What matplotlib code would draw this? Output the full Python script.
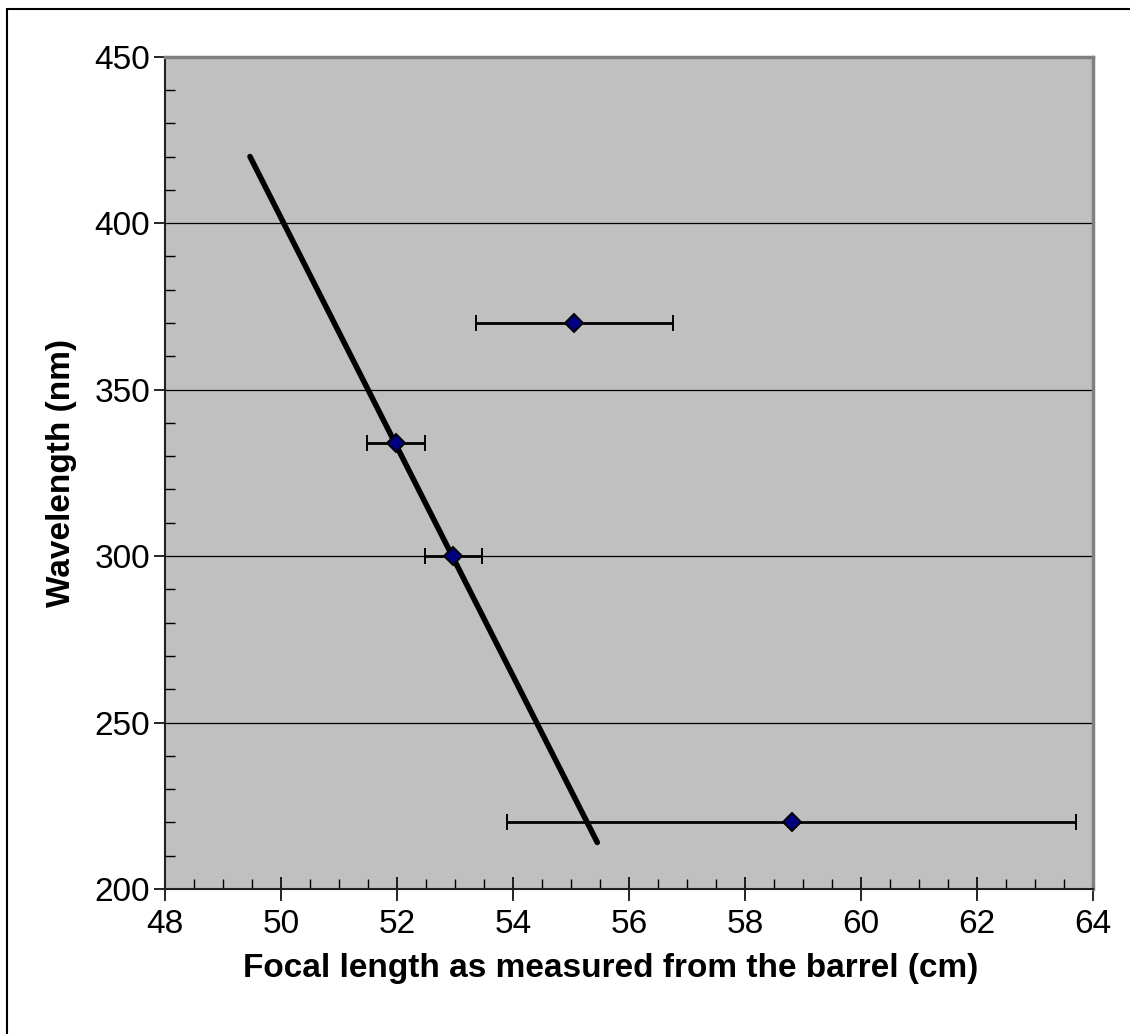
import matplotlib.pyplot as plt
from matplotlib.ticker import MultipleLocator
from matplotlib.patches import Rectangle

plt.rcParams['font.family'] = ['Liberation Sans', 'DejaVu Sans']

# measured points
focal = [55.05, 51.97, 52.97, 58.8]
wavelength = [370, 334, 300, 220]
focal_err = [1.7, 0.5, 0.5, 4.9]

# trend line end points
fit_x = [49.46, 55.45]
fit_y = [420, 214]

fig = plt.figure(figsize=(11.3, 10.34), dpi=100)
ax = fig.add_axes([0.1463, 0.1402, 0.8210, 0.8050])
ax.set_facecolor('#c0c0c0')

# outer chart border (runs off the right / bottom edge)
fig.patches.append(Rectangle((7 / 1130, -0.05), 1.1, 1 - 9 / 1034 + 0.05,
                             transform=fig.transFigure, fill=False,
                             edgecolor='black', linewidth=1.5))

ax.plot(fit_x, fit_y, color='black', linewidth=4, solid_capstyle='round', zorder=3)
ax.errorbar(focal, wavelength, xerr=focal_err, fmt='D', color='black',
            markerfacecolor='#000080', markeredgecolor='black', markersize=9,
            markeredgewidth=1.4, elinewidth=2, capsize=6, capthick=2, zorder=4)

ax.set_xlim(48, 64)
ax.set_ylim(200, 450)
ax.xaxis.set_major_locator(MultipleLocator(2))
ax.xaxis.set_minor_locator(MultipleLocator(0.5))
ax.yaxis.set_major_locator(MultipleLocator(50))
ax.yaxis.set_minor_locator(MultipleLocator(10))
ax.yaxis.grid(True, which='major', color='black', linewidth=0.9)
ax.set_axisbelow(True)

ax.tick_params(axis='x', which='major', direction='inout', length=17, width=1.2, labelsize=24, pad=6)
ax.tick_params(axis='y', which='major', direction='out', length=8, width=1.2, labelsize=24, pad=3)
ax.tick_params(which='minor', direction='in', length=7, width=1)

for s in ['left', 'bottom']:
    ax.spines[s].set_color('#202020')
    ax.spines[s].set_linewidth(1.5)
for s in ['top', 'right']:
    ax.spines[s].set_color('#808080')
    ax.spines[s].set_linewidth(2.5)

ax.set_xlabel('Focal length as measured from the barrel (cm)', fontsize=24,
              fontweight='bold')
ax.set_ylabel('Wavelength (nm)', fontsize=24, fontweight='bold')
# label centres as in the original (x label sits a bit left of the axes centre)
ax.xaxis.set_label_coords(0.48, -0.077)
ax.yaxis.set_label_coords(-0.095, 0.5)

fig.savefig('out.png', dpi=100)
